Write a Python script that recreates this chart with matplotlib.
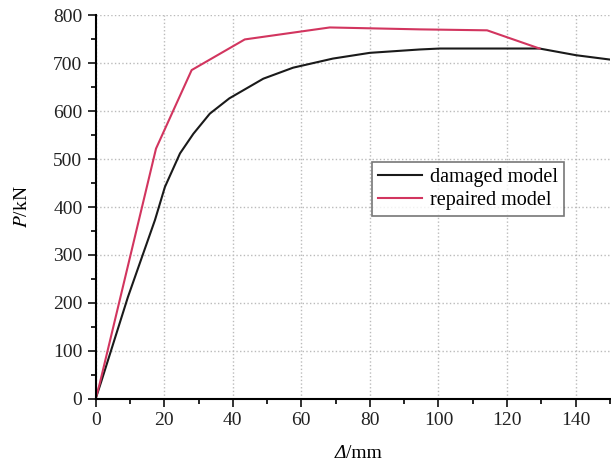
import matplotlib.pyplot as plt
from matplotlib.ticker import MultipleLocator

# load-displacement curves (displacement in mm, load in kN)
damaged_disp = [0, 1.6, 9.4, 17.3, 20.2, 24.6, 28.5, 33.3, 39, 48.9, 57.6, 69.2, 80, 94.5, 100.4, 115, 129.5, 140.2, 150]
damaged_load = [0, 35, 212, 373, 442, 512, 553, 595, 627, 668, 691, 710, 722, 729, 731, 731, 731, 717, 708]

repaired_disp = [0, 1.2, 17.6, 28, 43.5, 68.3, 94.5, 114.2, 129.5]
repaired_load = [0, 32, 522, 686, 750, 775, 771, 769, 731]

plt.rcParams['font.family'] = ['Liberation Serif', 'DejaVu Serif']
plt.rcParams['mathtext.fontset'] = 'stix'

fig = plt.figure(figsize=(6.11, 4.69), dpi=100)
ax = fig.add_axes([0.1566, 0.150, 0.8414, 0.817])

ax.plot(damaged_disp, damaged_load, color='#1a1a1a', lw=1.5, label='damaged model')
ax.plot(repaired_disp, repaired_load, color='#d2355f', lw=1.5, label='repaired model')

ax.set_xlim(0, 150)
ax.set_ylim(0, 800)
ax.xaxis.set_major_locator(MultipleLocator(20))
ax.xaxis.set_minor_locator(MultipleLocator(10))
ax.yaxis.set_major_locator(MultipleLocator(100))
ax.yaxis.set_minor_locator(MultipleLocator(50))

for side in ('top', 'right'):
    ax.spines[side].set_visible(False)
for side in ('left', 'bottom'):
    ax.spines[side].set_linewidth(1.5)

ax.tick_params(which='major', direction='out', length=6, width=1.3, labelsize=14, colors='#222222')
ax.tick_params(which='minor', direction='out', length=3.5, width=1.2)
ax.grid(True, which='major', linestyle=':', color='#bbbbbb', lw=1.0)

# x label: italic delta followed by upright unit
fig.text(0.566, 0.024, 'Δ', fontsize=14, fontstyle='italic', ha='right', va='baseline')
fig.text(0.566, 0.024, '/mm', fontsize=14, ha='left', va='baseline')
ax.set_ylabel(r'$\mathit{P}$/kN', fontsize=14, labelpad=16)

leg = ax.legend(loc='upper left', bbox_to_anchor=(0.518, 0.645), fontsize=14.5,
                frameon=True, fancybox=False, handlelength=2.2, borderpad=0.3,
                labelspacing=0.2, handletextpad=0.4)
leg.get_frame().set_edgecolor('#555555')
leg.get_frame().set_linewidth(1.2)

fig.savefig('out.png', dpi=100)
